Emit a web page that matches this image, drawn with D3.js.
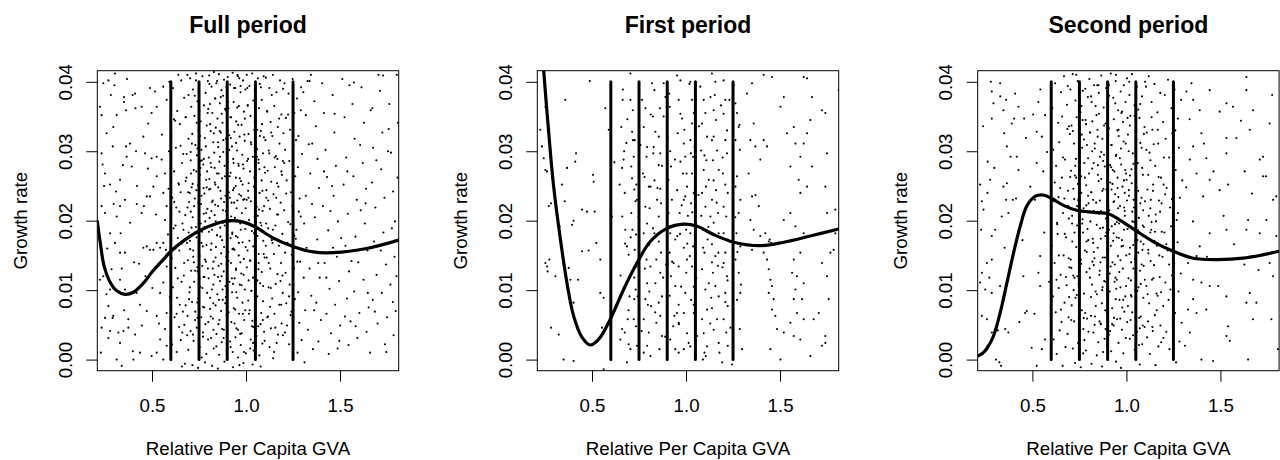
<!DOCTYPE html>
<html><head><meta charset="utf-8">
<script src="https://cdn.jsdelivr.net/npm/d3@7/dist/d3.min.js"></script>
<style>
html,body{margin:0;padding:0;background:#fff;}
svg{display:block;font-family:"Liberation Sans",Arial,Helvetica,sans-serif;}
</style></head>
<body>
<svg id="chart" width="1280" height="460"></svg>
<script>
// ---------------- DATA ----------------
const panelTitles = ["Full period", "First period", "Second period"];
const xLabel = "Relative Per Capita GVA";
const yLabel = "Growth rate";
const xTicks = [0.5, 1.0, 1.5];
const yTicks = [0.00, 0.01, 0.02, 0.03, 0.04];
const breakLines = [0.6, 0.75, 0.9, 1.05, 1.25];
const xDomain = [0.209, 1.812];
const yDomain = [-0.0016, 0.0416];

// smooth fitted curves [x, growth]
const fullCurve = [[.209,.0199],[.225,.0168],[.245,.0135],[.28,.0110],[.312,.0099],[.356,.0094],[.401,.0097],[.454,.0110],[.5,.0126],[.56,.0144],[.6,.0156],[.667,.0171],[.755,.0186],[.844,.0196],[.915,.0200],[.986,.0198],[1.05,.0191],[1.145,.0175],[1.25,.0163],[1.358,.0155],[1.465,.0154],[1.642,.0160],[1.812,.0172]];
const firstCurve = [[.225,.0485],[.243,.0416],[.270,.0326],[.296,.0249],[.332,.0173],[.367,.0110],[.402,.0063],[.447,.0032],[.491,.0021],[.535,.0029],[.597,.0058],[.668,.0101],[.739,.0139],[.810,.0170],[.899,.0189],[.988,.0195],[1.059,.0192],[1.147,.0180],[1.254,.0169],[1.395,.0164],[1.520,.0169],[1.661,.0178],[1.812,.0188]];
const secondCurve = [[.209,.0005],[.235,.0009],[.258,.0016],[.293,.0034],[.328,.0067],[.364,.0110],[.400,.0154],[.435,.0192],[.470,.0221],[.514,.0235],[.555,.0237],[.603,.0232],[.665,.0222],[.735,.0215],[.824,.0212],[.904,.0210],[.965,.0201],[1.054,.0185],[1.142,.0170],[1.249,.0156],[1.355,.0146],[1.479,.0144],[1.620,.0146],[1.812,.0156]];

// scatter points [x, growth]
const fullPointsA = [
[.223,.0364],[.241,.0398],[.268,.0402],[.303,.0412],[.232,.0352],[.259,.0326],[.294,.0335],[.291,.0307],[.232,.0297],[.250,.0268],[.277,.0252],[.309,.0242],[.330,.0259],[.356,.0230],[.362,.0359],[.351,.0371],[.351,.0378],[.397,.0381],[.410,.0383],[.383,.0311],[.362,.0307],[.365,.0292],[.392,.0278],[.312,.0206],[.330,.0221],[.333,.0182],[.250,.0211],[.232,.0221],[.277,.0182],[.303,.0168],[.330,.0154],[.356,.0154],[.285,.0130],[.241,.0120],[.223,.0115],[.268,.0077],[.250,.0060],[.294,.0063],[.232,.0046],[.277,.0041],[.321,.0039],[.348,.0041],[.374,.0046],[.330,.0024],[.312,.0000],[.339,-.0009],[.401,.0000],[.374,.0058],[.418,.0096],[.436,.0079],[.472,.0070],[.454,.0161],[.472,.0163],[.489,.0158],[.507,.0158],[.525,.0168],[.543,.0161],[.560,.0168],[.445,.0211],[.457,.0221],[.472,.0235],[.489,.0235],[.507,.0249],[.525,.0264],[.498,.0290],[.454,.0321],[.480,.0340],[.445,.0364],[.498,.0355],[.525,.0364],[.560,.0393],[.578,.0374],[.516,.0386],[.525,.0292],[.551,.0288],[.569,.0268],[.560,.0240],[.578,.0221],[.569,.0201],[.578,.0134],[.560,.0111],[.543,.0096],[.525,.0063],[.578,.0067],[.569,.0044],[.543,.0029],[.525,.0010],[.560,.0000],[.578,.0020],[.498,.0005],[.436,.0010],[.410,.0036],[.330,.0115],[.356,.0101],[.277,.0101],
[.228,.0010],[.262,.0160],[.345,.0280],[.420,.0250],[.405,.0140],[.465,.0120],[.300,.0395],[.245,.0250],[.590,.0300],[.585,.0180],[.595,.0090],[.592,.0400],[.290,.0060],[.415,.0300],
[.612,.0391],[.634,.0358],[.655,.0402],[.671,.0377],[.688,.0410],[.603,.0322],[.627,.0305],[.648,.0339],[.666,.0296],[.694,.0318],[.618,.0271],[.641,.0254],[.659,.0283],[.683,.0262],[.608,.0233],[.629,.0219],[.652,.0241],[.677,.0208],[.697,.0227],[.615,.0189],[.637,.0175],[.662,.0196],[.686,.0168],[.605,.0146],[.624,.0132],[.645,.0157],[.669,.0121],[.691,.0143],[.611,.0104],[.633,.0089],[.657,.0112],[.679,.0078],[.699,.0097],[.620,.0061],[.644,.0047],[.664,.0069],[.687,.0035],[.607,.0022],[.631,.0011],[.653,.0028],[.675,-.0006],[.693,.0014],[.640,.0410],[.617,.0346],[.681,.0349],[.646,.0213],[.625,.0160],[.672,.0050],[.659,-.0010],[.695,.0183],
[.703,.0405],[.718,.0389],[.734,.0412],[.751,.0396],[.768,.0408],[.785,.0384],[.797,.0401],[.709,.0364],[.726,.0351],[.742,.0372],[.759,.0343],[.776,.0366],[.791,.0337],[.714,.0325],[.731,.0309],[.747,.0330],[.763,.0302],[.781,.0319],[.706,.0287],[.722,.0273],[.739,.0294],[.755,.0266],[.772,.0281],[.788,.0259],[.711,.0248],[.728,.0232],[.744,.0251],[.761,.0224],[.779,.0239],[.795,.0217],[.716,.0205],[.733,.0191],[.749,.0212],[.766,.0184],[.783,.0199],[.702,.0171],[.719,.0157],[.737,.0176],[.753,.0149],[.770,.0163],[.787,.0141],[.708,.0128],[.724,.0112],[.741,.0133],[.757,.0105],[.774,.0119],[.793,.0096],[.713,.0083],[.730,.0069],[.746,.0088],[.762,.0061],[.778,.0075],[.799,.0054],[.705,.0041],[.721,.0027],[.738,.0046],[.754,.0018],[.771,.0033],[.789,.0008],[.715,-.0008],[.745,-.0012],[.764,.0003],[.782,-.0004],[.727,.0380],[.758,.0286],[.736,.0244],[.775,.0210],[.710,.0190],[.790,.0165],[.750,.0090],[.723,.0140],[.767,.0135],[.742,.0060],[.796,.0355],[.701,.0240],
[.804,.0409],[.817,.0393],[.829,.0414],[.842,.0398],[.856,.0411],[.869,.0388],[.883,.0403],[.896,.0392],[.808,.0368],[.821,.0355],[.835,.0376],[.848,.0347],[.861,.0369],[.875,.0341],[.889,.0361],[.812,.0329],[.826,.0313],[.839,.0334],[.852,.0306],[.866,.0327],[.879,.0299],[.893,.0318],[.802,.0291],[.815,.0277],[.831,.0298],[.845,.0268],[.858,.0285],[.872,.0261],[.886,.0279],[.899,.0255],[.810,.0246],[.823,.0229],[.837,.0252],[.851,.0221],[.864,.0243],[.877,.0215],[.891,.0236],[.806,.0204],[.819,.0187],[.833,.0208],[.846,.0179],[.859,.0198],[.873,.0172],[.887,.0193],[.813,.0158],[.827,.0141],[.840,.0162],[.854,.0135],[.868,.0153],[.881,.0127],[.895,.0148],[.801,.0117],[.818,.0101],[.832,.0122],[.847,.0094],[.862,.0113],[.876,.0086],[.890,.0106],[.809,.0073],[.824,.0059],[.838,.0078],[.853,.0051],[.867,.0070],[.882,.0043],[.897,.0064],[.814,.0031],[.828,.0016],[.843,.0037],[.857,.0007],[.871,.0025],[.885,-.0003],[.898,.0012],[.820,-.0009],[.850,-.0013],[.878,.0380],[.836,.0223],[.863,.0190],[.892,.0090],[.805,.0260],[.870,.0120],
[.903,.0407],[.916,.0396],[.929,.0413],[.943,.0391],[.957,.0408],[.971,.0385],[.984,.0402],[.997,.0389],[.907,.0362],[.921,.0349],[.934,.0371],[.948,.0343],[.962,.0365],[.976,.0338],[.989,.0357],[.911,.0323],[.925,.0307],[.938,.0328],[.952,.0301],[.966,.0321],[.980,.0295],[.993,.0315],[.904,.0284],[.918,.0269],[.932,.0289],[.946,.0262],[.959,.0282],[.973,.0257],[.987,.0275],[.909,.0241],[.923,.0226],[.936,.0247],[.950,.0218],[.964,.0238],[.978,.0211],[.991,.0231],[.914,.0199],[.927,.0183],[.941,.0204],[.955,.0176],[.969,.0196],[.982,.0169],[.996,.0188],[.906,.0155],[.920,.0139],[.933,.0160],[.947,.0131],[.961,.0150],[.975,.0124],[.988,.0145],[.912,.0112],[.926,.0097],[.940,.0117],[.953,.0089],[.967,.0108],[.981,.0082],[.994,.0101],[.908,.0068],[.922,.0054],[.935,.0074],[.949,.0045],[.963,.0066],[.977,.0038],[.990,.0057],[.915,.0026],[.929,.0011],[.944,.0032],[.958,.0003],[.972,.0021],[.986,-.0005],[.999,.0009],[.931,-.0011],[.965,-.0008],[.945,.0250],[.918,.0175],[.970,.0140],[.902,.0330],[.985,.0230],[.954,.0410],
[1.004,.0410],[1.018,.0394],[1.033,.0412],[1.048,.0387],[1.063,.0405],[1.079,.0392],[1.094,.0408],[1.009,.0366],[1.024,.0351],[1.039,.0373],[1.054,.0344],[1.069,.0362],[1.085,.0339],[1.013,.0325],[1.028,.0310],[1.044,.0331],[1.059,.0303],[1.074,.0322],[1.090,.0297],[1.006,.0286],[1.021,.0271],[1.036,.0292],[1.052,.0265],[1.067,.0283],[1.083,.0258],[1.098,.0277],[1.011,.0243],[1.026,.0228],[1.042,.0249],[1.057,.0220],[1.072,.0240],[1.088,.0214],[1.016,.0201],[1.031,.0185],[1.046,.0206],[1.061,.0178],[1.077,.0197],[1.092,.0171],[1.008,.0157],[1.023,.0142],[1.038,.0163],[1.053,.0134],[1.068,.0152],[1.084,.0126],[1.099,.0147],[1.014,.0114],[1.029,.0099],[1.045,.0119],[1.060,.0091],[1.075,.0110],[1.091,.0084],[1.019,.0071],[1.034,.0056],[1.050,.0076],[1.065,.0048],[1.081,.0067],[1.096,.0040],[1.025,.0029],[1.040,.0013],[1.056,.0034],[1.071,.0006],[1.087,.0023],[1.035,-.0007],[1.078,-.0010],[1.003,.0230],[1.051,.0360],[1.086,.0185],[1.012,.0085],[1.066,.0130],[1.095,.0320],
[1.106,.0406],[1.124,.0391],[1.143,.0410],[1.162,.0385],[1.181,.0402],[1.197,.0390],[1.112,.0358],[1.131,.0342],[1.150,.0365],[1.169,.0335],[1.188,.0353],[1.103,.0316],[1.121,.0301],[1.140,.0322],[1.159,.0293],[1.178,.0311],[1.196,.0286],[1.115,.0272],[1.134,.0256],[1.153,.0277],[1.172,.0249],[1.191,.0266],[1.108,.0233],[1.127,.0217],[1.146,.0238],[1.165,.0209],[1.184,.0226],[1.118,.0189],[1.137,.0172],[1.156,.0193],[1.175,.0164],[1.193,.0181],[1.110,.0147],[1.129,.0131],[1.148,.0152],[1.167,.0123],[1.186,.0139],[1.120,.0104],[1.139,.0088],[1.158,.0109],[1.177,.0079],[1.195,.0096],[1.113,.0061],[1.132,.0045],[1.151,.0066],[1.170,.0036],[1.189,.0052],[1.125,.0018],[1.144,.0002],[1.163,.0024],
[1.205,.0398],[1.226,.0383],[1.248,.0404],[1.271,.0376],[1.293,.0392],[1.212,.0348],[1.234,.0331],[1.257,.0355],[1.279,.0322],[1.208,.0302],[1.230,.0286],[1.253,.0309],[1.276,.0277],[1.298,.0296],[1.216,.0258],[1.239,.0241],[1.262,.0264],[1.285,.0232],[1.203,.0215],[1.224,.0198],[1.246,.0221],[1.268,.0187],[1.291,.0206],[1.220,.0168],[1.243,.0151],[1.265,.0174],[1.288,.0141],[1.210,.0125],[1.232,.0108],[1.255,.0131],[1.277,.0097],[1.214,.0081],[1.237,.0064],[1.260,.0087],[1.283,.0053],[1.207,.0039],[1.229,.0022],[1.251,.0045],[1.274,.0010],[1.296,.0028],
[1.305,.0385],[1.318,.0352],[1.327,.0401],[1.334,.0310],[1.342,.0268],[1.351,.0224],[1.309,.0196],[1.322,.0161],[1.338,.0131],[1.347,.0092],[1.315,.0071],[1.329,.0043],[1.356,.0015],[1.311,-.0004],[1.363,.0372],[1.371,.0336],[1.380,.0289],[1.388,.0247],[1.366,.0205],[1.379,.0173],[1.392,.0118],[1.374,.0082],[1.398,.0057],[1.385,.0026],[1.405,.0398],[1.414,.0355],[1.423,.0302],[1.431,.0263],[1.409,.0221],[1.437,.0186],[1.418,.0139],[1.444,.0102],[1.428,.0066],[1.452,.0038],[1.440,.0008],[1.461,.0381],[1.470,.0327],[1.478,.0279],[1.466,.0236],[1.489,.0199],[1.483,.0148],[1.495,.0113],[1.474,.0079],[1.501,.0049],[1.487,.0016],[1.512,.0404],[1.524,.0349],[1.533,.0291],[1.519,.0252],[1.541,.0210],[1.529,.0164],[1.548,.0127],[1.537,.0088],[1.556,.0055],[1.545,.0021],[1.566,.0368],[1.578,.0318],[1.571,.0264],[1.589,.0230],[1.582,.0177],[1.597,.0140],[1.575,.0098],[1.603,.0067],[1.592,.0031],[1.614,.0392],[1.627,.0341],[1.621,.0283],[1.638,.0246],[1.632,.0196],[1.646,.0157],[1.625,.0115],[1.652,.0075],[1.641,.0040],[1.663,.0359],[1.676,.0305],[1.670,.0255],[1.688,.0219],[1.681,.0170],[1.694,.0122],[1.674,.0086],[1.700,.0052],[1.712,.0387],[1.725,.0327],[1.719,.0274],[1.736,.0233],[1.731,.0183],[1.744,.0137],[1.722,.0096],[1.750,.0061],[1.739,.0022],[1.762,.0368],[1.771,.0298],[1.782,.0242],[1.776,.0189],[1.790,.0148],[1.768,.0108],[1.796,.0070],[1.785,.0035],[1.802,.0410],[1.806,.0262],[1.800,.0120],[1.345,.0410],[1.402,.0155],[1.458,.0250],[1.506,.0175],[1.550,.0395],[1.610,.0215],[1.660,.0010],[1.705,.0410],[1.755,.0300]
];
const fullPointsB = [
[.743,.0127],[.958,.0338],[.812,.0062],[1.071,.0274],[.689,.0219],[.901,.0093],[1.137,.0381],[.776,.0289],[1.022,.0016],[.864,.0177],
[.931,.0244],[.718,.0036],[1.094,.0152],[.805,.0397],[.652,.0308],[1.183,.0113],[.887,.0264],[.996,.0071],[.759,.0196],[1.046,.0342],
[.823,.0131],[1.118,.0229],[.697,.0087],[.972,.0187],[.851,.0313],[1.257,.0178],[.734,.0402],[.918,.0018],[1.063,.0207],[.791,.0248],
[.625,.0193],[1.009,.0366],[.873,.0044],[1.152,.0291],[.768,.0103],[.946,.0129],[1.089,.0057],[.837,.0376],[.707,.0268],[1.214,.0239],
[.984,.0281],[.756,.0322],[1.128,.0076],[.893,.0214],[.661,.0039],[1.037,.0118],[.816,.0167],[1.176,.0347],[.939,.0052],[.782,.0144],
[1.052,.0238],[.871,.0354],[.727,.0183],[.964,.0405],[1.107,.0196],[.798,.0029],[.911,.0302],[1.241,.0069],[.679,.0257],[1.018,.0171],
[.856,.0086],[.747,.0226],[1.079,.0329],[.928,.0159],[.637,.0117],[1.165,.0254],[.833,.0276],[.989,.0011],[.712,.0311],[1.281,.0213],
[.905,.0371],[1.032,.0048],[.771,.0076],[1.121,.0139],[.867,.0232],[.694,.0381],[.951,.0199],[1.196,.0035],[.809,.0339],[1.058,.0292],
[.736,.0271],[.976,.0107],[1.143,.0187],[.842,.0019],[.618,.0227],[1.014,.0254],[.897,.0137],[1.266,.0316],[.763,.0168],[.934,.0283],
[1.099,.0027],[.788,.0211],[.953,.0363],[.671,.0139],[1.047,.0079],[.879,.0316],[1.208,.0154],[.729,.0057],[.998,.0218],[.826,.0108],
[1.073,.0397],[.914,.0233],[.752,.0358],[1.156,.0046],[.862,.0292],[.648,.0079],[1.026,.0313],[.943,.0072],[.797,.0131],[1.188,.0271],
[.883,.0162],[.706,.0213],[1.061,.0114],[.967,.0261],[.819,.0227],[1.229,.0091],[.741,.0082],[1.004,.0133],[.917,.0349],[1.113,.0357],
[.846,.0401],[.684,.0296],[1.042,.0182],[.925,.0117],[.774,.0247],[1.171,.0209],[.991,.0324],[.859,.0057],[.623,.0344],[1.087,.0243],
[.957,.0043],[.803,.0184],[1.134,.0327],[.877,.0197],[.719,.0148],[1.011,.0289],[.936,.0391],[1.252,.0264],[.784,.0051],[1.067,.0139],
[.829,.0326],[.962,.0168],[1.101,.0269],[.701,.0104],[.889,.0081],[1.038,.0024],[.765,.0287],[1.194,.0121],[.974,.0236],[.852,.0248],
[1.117,.0062],[.738,.0341],[.921,.0206],[1.084,.0374],[.809,.0089],[.667,.0187],[1.003,.0196],[.868,.0138],[1.224,.0353],[.947,.0312],
[.793,.0271],[1.029,.0099],[.898,.0047],[1.161,.0233],[.753,.0116],[.982,.0252],[.839,.0199],[1.069,.0216],[.706,.0299],[.931,.0109],
[1.053,.0157],[.866,.0378],[.779,.0191],[1.141,.0168],[.994,.0347],[.643,.0252],[.913,.0264],[1.273,.0141],[.827,.0043],[1.016,.0066],
[.724,.0221],[.946,.0178],[1.096,.0221],[.851,.0119],[.799,.0361],[1.203,.0283],[.969,.0037],[.689,.0063],[1.044,.0262],[.883,.0227],
[.907,.0142],[1.124,.0297],[.771,.0039],[.987,.0122],[.834,.0255],[1.059,.0331],[.716,.0253],[.954,.0229],[1.187,.0079],[.861,.0329],
[.748,.0169],[1.007,.0391],[.892,.0359],[1.132,.0103],[.812,.0283],[.678,.0349],[.939,.0158],[1.077,.0051],[.763,.0236],[1.236,.0195],
[.983,.0066],[.845,.0179],[1.108,.0244],[.729,.0128],[.919,.0319],[1.048,.0209],[.786,.0307],[.658,.0167],[1.167,.0289],[.875,.0101],
[1.021,.0143],[.901,.0253],[.757,.0276],[1.082,.0193],[.826,.0081],[.961,.0279],[1.149,.0011],[.703,.0159],[.937,.0226],[1.291,.0359],
[.816,.0214],[1.066,.0288],[.881,.0031],[.742,.0304],[.998,.0162],[1.199,.0326],[.854,.0268],[.631,.0066],[1.039,.0047],[.927,.0181],
[.779,.0119],[1.013,.0233],[.948,.0097],[1.105,.0164],[.838,.0147],[.692,.0241],[.971,.0394],[1.218,.0049],[.803,.0245],[1.091,.0106],
[.237,.0281],[.312,.0352],[.384,.0197],[.446,.0049],[.521,.0209],[.268,.0031],[.339,.0131],[.412,.0362],[.478,.0275],[.553,.0324],[.296,.0224],[.367,.0404],[.431,.0138],[.502,.0103],[.574,.0158],[.223,.0165],[.281,.0381],[.352,.0071],[.419,.0224],[.489,.0391],[.537,.0052],[.588,.0246],[.258,.0094],[.398,.0012],[.463,.0297],
[1.318,.0236],[1.427,.0118],[1.539,.0271],[1.648,.0096],[1.759,.0332],[1.362,.0071],[1.471,.0354],[1.583,.0048],[1.693,.0287],[1.792,.0199],[1.338,.0401],[1.449,.0214],[1.561,.0142],[1.672,.0362],[1.781,.0083],[1.384,.0139],[1.496,.0027],[1.607,.0309],[1.717,.0157],[1.808,.0341],[1.307,.0118],[1.415,.0271],[1.526,.0062],[1.636,.0225],[1.746,.0011],[1.352,.0311],[1.463,.0161],[1.574,.0399],[1.685,.0069],[1.729,.0409]
];

const firstPointsA = [
[.225,.0331],[.234,.0307],[.243,.0290],[.252,.0273],[.261,.0271],[.252,.0364],[.270,.0221],[.282,.0225],[.252,.0139],[.261,.0134],[.273,.0144],[.264,.0127],[.305,.0120],[.282,.0046],[.323,.0036],[.358,.0374],[.367,.0276],[.355,.0228],[.340,.0252],[.328,.0192],[.394,.0194],[.376,.0132],[.385,.0115],[.402,.0082],[.411,.0285],[.402,.0200],[.415,.0297],[.447,.0216],[.473,.0213],[.447,.0156],[.482,.0157],[.426,.0115],[.349,.0000],[.402,-.0002],[.488,.0401],[.505,.0266],[.509,.0256],[.514,.0213],[.523,.0168],[.544,.0144],[.544,.0096],[.562,.0089],[.553,.0046],[.571,.0362],[.589,.0331],[.606,.0206],[.562,-.0014],
[.647,.0252],[.656,.0335],[.663,.0374],[.660,.0276],[.668,.0288],[.671,.0300],[.674,.0240],[.661,.0206],[.677,.0187],[.686,.0163],[.695,.0151],[.704,.0120],[.699,.0091],[.690,.0058],[.660,.0044],[.674,.0039],[.695,.0022],[.704,.0015],[.686,-.0004],[.651,.0029],
[.704,.0412],[.704,.0374],[.713,.0328],[.718,.0316],[.727,.0316],[.722,.0292],[.709,.0278],[.713,.0261],[.725,.0245],[.736,.0252],[.739,.0230],[.709,.0211],[.715,.0187],[.734,.0180],[.727,.0158],[.739,.0134],[.725,.0118],[.732,.0101],[.725,.0087],[.722,.0058],[.734,.0048],[.739,.0020],
[.766,.0374],[.784,.0362],[.775,.0335],[.793,.0306],[.790,.0292],[.779,.0263],[.802,.0249],[.811,.0249],[.784,.0220],[.793,.0196],[.775,.0182],[.802,.0165],[.790,.0144],[.811,.0134],[.793,.0110],[.805,.0098],[.784,.0087],[.814,.0077],[.775,.0058],[.802,.0039],[.793,.0020],[.775,.0010],[.811,.0005],
[.819,.0398],[.832,.0388],[.824,.0350],[.837,.0328],[.855,.0321],[.828,.0306],[.863,.0297],[.855,.0280],[.832,.0258],[.863,.0246],[.846,.0230],[.867,.0225],[.855,.0206],[.832,.0182],[.855,.0170],[.867,.0154],[.842,.0144],[.863,.0125],[.837,.0110],[.872,.0091],[.855,.0082],[.863,.0063],[.842,.0053],[.872,.0034],[.859,.0015],
[.881,.0398],[.890,.0378],[.881,.0350],[.913,.0364],[.902,.0320],[.916,.0300],[.920,.0278],[.907,.0259],[.898,.0242],[.925,.0230],[.907,.0211],[.929,.0192],[.916,.0182],[.943,.0173],[.913,.0154],[.934,.0139],[.920,.0120],[.943,.0106],[.913,.0092],[.952,.0067],[.932,.0048],[.916,.0029],[.943,.0015],[.961,.0010],
[.952,.0409],[.970,.0402],[.961,.0374],[.970,.0354],[.979,.0347],[.956,.0326],[.988,.0311],[.996,.0292],[.970,.0285],[.984,.0268],[1.005,.0249],[.996,.0235],[.988,.0230],[1.010,.0207],[.966,.0211],[1.001,.0187],[.954,.0178],[.988,.0161],[1.005,.0144],[.961,.0134],[1.001,.0125],[.974,.0105],[.996,.0096],[.961,.0079],[.988,.0067],[.961,.0053],[1.005,.0038],[1.014,.0024],[.988,.0015],
[1.023,.0400],[1.032,.0374],[1.041,.0355],[1.032,.0340],[1.023,.0316],[1.045,.0306],[1.038,.0292],[1.050,.0282],[1.032,.0268],[1.041,.0240],[1.027,.0225],[1.050,.0206],[1.023,.0182],[1.038,.0163],[1.020,.0149],[1.032,.0134],[1.041,.0105],[1.027,.0086],[1.041,.0067],[1.050,.0048],[1.059,.0034],[1.023,.0019],
[1.076,.0393],[1.094,.0374],[1.103,.0355],[1.085,.0340],[1.112,.0321],[1.080,.0301],[1.108,.0287],[1.094,.0273],[1.121,.0259],[1.085,.0240],[1.103,.0220],[1.130,.0206],[1.090,.0187],[1.115,.0173],[1.098,.0154],[1.138,.0140],[1.085,.0130],[1.121,.0110],[1.103,.0101],[1.112,.0072],[1.085,.0058],[1.094,.0038],[1.112,.0019],[1.098,.0010],[1.090,.0000],[1.105,.0005],
[1.138,.0412],[1.156,.0400],[1.130,.0378],[1.147,.0359],[1.160,.0345],[1.138,.0316],[1.165,.0301],[1.143,.0287],[1.174,.0273],[1.147,.0258],[1.160,.0244],[1.138,.0230],[1.170,.0211],[1.147,.0197],[1.174,.0182],[1.138,.0166],[1.156,.0149],[1.170,.0135],[1.143,.0125],[1.156,.0106],[1.174,.0091],[1.138,.0074],[1.165,.0058],[1.147,.0043],[1.174,.0024],[1.178,.0010],[1.192,-.0004],
[1.200,.0402],[1.209,.0374],[1.200,.0354],[1.218,.0330],[1.209,.0316],[1.218,.0297],[1.196,.0268],[1.209,.0252],[1.222,.0240],[1.200,.0220],[1.214,.0206],[1.200,.0182],[1.222,.0173],[1.209,.0154],[1.200,.0139],[1.218,.0120],[1.209,.0096],[1.222,.0077],[1.200,.0058],[1.214,.0039],[1.222,.0020],[1.245,-.0007],
[1.254,.0395],[1.263,.0369],[1.271,.0355],[1.280,.0335],[1.263,.0316],[1.286,.0302],[1.271,.0264],[1.263,.0249],[1.289,.0230],[1.280,.0211],[1.268,.0182],[1.289,.0163],[1.263,.0144],[1.280,.0125],[1.289,.0096],[1.271,.0086],[1.286,.0044],[1.298,.0015],
[1.324,.0383],[1.351,.0398],[1.360,.0340],[1.342,.0316],[1.369,.0307],[1.395,.0288],[1.413,.0316],[1.431,.0307],[1.333,.0268],[1.351,.0235],[1.369,.0237],[1.387,.0221],[1.342,.0201],[1.360,.0187],[1.351,.0158],[1.395,.0178],[1.413,.0154],[1.422,.0182],[1.431,.0144],[1.440,.0130],[1.449,.0115],[1.457,.0106],[1.466,.0087],[1.440,.0096],[1.457,.0072],[1.475,.0063],[1.484,.0044],[1.502,.0000],[1.520,.0039],[1.449,.0015],[1.440,.0170],[1.445,.0173],[1.452,.0168],[1.448,.0165],
[1.413,.0410],[1.457,.0407],[1.502,.0364],[1.520,.0378],[1.537,.0326],[1.573,.0335],[1.555,.0278],[1.582,.0311],[1.599,.0259],[1.608,.0292],[1.626,.0311],[1.644,.0326],[1.661,.0345],[1.670,.0278],[1.608,.0240],[1.644,.0249],[1.520,.0201],[1.555,.0211],[1.582,.0192],[1.590,.0173],[1.626,.0182],[1.573,.0144],[1.608,.0154],[1.564,.0125],[1.590,.0120],[1.582,.0101],[1.626,.0110],[1.573,.0087],[1.617,.0087],[1.590,.0067],[1.626,.0058],[1.555,.0053],[1.573,.0034],[1.608,.0029],[1.661,.0005],[1.679,.0058],[1.706,.0067],[1.723,.0020],[1.741,.0024],[1.741,.0034],[1.759,.0087],[1.750,.0120],[1.768,.0154],[1.723,.0139],[1.785,.0158],[1.794,.0182],[1.750,.0211],[1.723,.0359],[1.741,.0355],[1.750,.0297],[1.741,.0249],[1.794,.0216],[1.812,.0388],[1.644,.0405],[1.626,.0407],[1.670,.0378]
];
const firstPointsB = [
[.683,.0312],[.747,.0205],[.812,.0353],[.878,.0118],[.941,.0288],[1.007,.0167],[1.069,.0336],[1.134,.0089],[1.195,.0291],[1.262,.0205],
[.706,.0176],[.771,.0268],[.836,.0068],[.899,.0196],[.962,.0051],[1.026,.0297],[1.091,.0161],[1.153,.0381],[1.221,.0114],[1.284,.0338],
[.652,.0121],[.717,.0359],[.781,.0131],[.848,.0247],[.911,.0383],[.977,.0222],[1.041,.0079],[1.106,.0249],[1.172,.0154],[1.236,.0046],
[.694,.0071],[.758,.0309],[.824,.0189],[.889,.0033],[.953,.0244],[1.018,.0397],[1.081,.0207],[1.147,.0321],[1.209,.0083],[1.273,.0155],
[.664,.0389],[.731,.0228],[.797,.0079],[.861,.0362],[.926,.0141],[.991,.0331],[1.055,.0117],[1.119,.0191],[1.186,.0366],[1.249,.0261],
[.676,.0167],[.743,.0091],[.806,.0218],[.872,.0279],[.938,.0063],[1.003,.0268],[1.066,.0237],[1.129,.0052],[1.194,.0133],[1.292,.0108],
[.619,.0284],[.688,.0346],[.764,.0041],[.826,.0297],[.894,.0137],[.968,.0181],[1.033,.0212],[1.098,.0294],[1.163,.0226],[1.231,.0374]
];

const secondPointsA = [
[.222,.0252],[.231,.0228],[.240,.0216],[.261,.0240],[.275,.0259],[.262,.0285],[.284,.0347],[.293,.0369],[.284,.0386],[.279,.0400],[.328,.0398],[.346,.0359],[.360,.0374],[.350,.0326],[.364,.0307],[.390,.0340],[.403,.0347],[.426,.0364],[.408,.0383],[.456,.0347],[.396,.0230],[.364,.0254],[.346,.0249],[.360,.0230],[.337,.0206],[.302,.0187],[.284,.0178],[.284,.0144],[.258,.0139],[.231,.0125],[.222,.0111],[.249,.0101],[.284,.0096],[.328,.0106],[.231,.0063],[.258,.0058],[.284,.0039],[.261,.0020],[.306,.0000],[.324,-.0004],[.333,-.0009],[.355,.0044],[.372,.0039],[.452,.0120],[.470,.0070],[.461,.0067],[.496,.0017],[.514,.0230],[.532,.0125],[.541,.0106],[.541,.0149],[.523,.0283],[.550,.0321],[.523,.0328],[.558,.0271],[.567,.0352],[.532,.0371],[.567,.0029],[.550,.0015],[.523,-.0009],[.417,.0292],[.426,.0273],
[.606,.0362],[.621,.0398],[.637,.0341],[.652,.0385],[.668,.0408],[.684,.0367],[.699,.0325],[.611,.0302],[.626,.0279],[.643,.0313],[.657,.0262],[.673,.0288],[.689,.0243],[.615,.0228],[.632,.0195],[.648,.0247],[.663,.0211],[.679,.0176],[.694,.0203],[.603,.0164],[.618,.0139],[.634,.0181],[.650,.0122],[.666,.0150],[.682,.0107],[.697,.0133],[.609,.0091],[.624,.0068],[.640,.0103],[.655,.0054],[.671,.0082],[.687,.0037],[.613,.0029],[.629,.0008],[.645,.0042],[.661,-.0009],[.676,.0018],[.692,.0061],[.619,.0255],[.686,.0332],[.641,.0150],[.658,.0350],[.628,.0115],[.695,.0090],[.670,.0232],
[.702,.0389],[.714,.0411],[.729,.0373],[.741,.0401],[.756,.0356],[.768,.0387],[.783,.0345],[.795,.0378],[.708,.0337],[.721,.0311],[.735,.0349],[.748,.0298],[.762,.0324],[.776,.0283],[.790,.0309],[.705,.0272],[.718,.0246],[.731,.0289],[.745,.0231],[.759,.0264],[.772,.0218],[.786,.0251],[.799,.0225],[.711,.0207],[.724,.0183],[.738,.0221],[.752,.0168],[.765,.0196],[.779,.0157],[.793,.0188],[.704,.0144],[.717,.0121],[.733,.0162],[.746,.0109],[.760,.0138],[.774,.0095],[.788,.0126],[.709,.0078],[.722,.0055],[.736,.0093],[.750,.0041],[.763,.0071],[.777,.0028],[.791,.0059],[.715,.0016],[.727,-.0005],[.743,.0024],[.757,-.0011],[.770,.0009],[.784,.0013],[.798,.0040],[.726,.0265],[.754,.0190],[.781,.0390],[.739,.0120],[.767,.0345],[.712,.0170],[.796,.0290],[.748,.0375],[.773,.0060],[.733,.0410],[.760,.0240],[.788,.0170],[.719,.0100],[.752,.0300],
[.803,.0404],[.815,.0371],[.828,.0395],[.841,.0352],[.853,.0384],[.866,.0409],[.879,.0363],[.892,.0391],[.806,.0327],[.819,.0343],[.832,.0304],[.846,.0331],[.859,.0292],[.872,.0318],[.885,.0278],[.898,.0306],[.801,.0268],[.813,.0241],[.826,.0283],[.839,.0226],[.852,.0257],[.865,.0214],[.878,.0246],[.891,.0203],[.808,.0199],[.821,.0174],[.834,.0211],[.847,.0161],[.860,.0189],[.874,.0147],[.887,.0178],[.899,.0135],[.804,.0131],[.817,.0108],[.830,.0146],[.843,.0094],[.856,.0122],[.869,.0081],[.882,.0113],[.895,.0069],[.811,.0063],[.824,.0039],[.837,.0077],[.850,.0025],[.863,.0052],[.876,.0011],[.889,.0044],[.814,-.0006],[.842,.0006],[.870,-.0010],[.896,.0021],[.823,.0230],[.848,.0280],[.875,.0190],[.836,.0365],[.862,.0140],[.889,.0340],[.812,.0090],[.857,.0055],[.881,.0295],[.827,.0155],[.866,.0260],[.845,.0395],[.893,.0245],[.818,.0300],[.871,.0100],[.854,.0210],[.884,.0030],[.831,.0050],[.897,.0160],
[.904,.0398],[.917,.0412],[.930,.0377],[.943,.0401],[.956,.0359],[.969,.0386],[.982,.0342],[.995,.0371],[.907,.0333],[.920,.0309],[.933,.0346],[.946,.0295],[.959,.0322],[.972,.0281],[.985,.0314],[.998,.0268],[.901,.0286],[.914,.0255],[.927,.0273],[.940,.0238],[.953,.0262],[.966,.0221],[.979,.0249],[.992,.0207],[.909,.0215],[.922,.0192],[.935,.0228],[.948,.0176],[.961,.0201],[.974,.0163],[.987,.0187],[.903,.0159],[.916,.0134],[.929,.0171],[.942,.0118],[.955,.0149],[.968,.0104],[.981,.0131],[.994,.0091],[.911,.0098],[.924,.0074],[.937,.0112],[.950,.0058],[.963,.0086],[.976,.0043],[.989,.0069],[.906,.0036],[.919,.0012],[.932,.0049],[.945,-.0003],[.958,.0024],[.971,-.0012],[.984,.0009],[.997,.0031],[.913,.0280],[.939,.0195],[.965,.0290],[.991,.0240],[.926,.0140],[.952,.0330],[.978,.0075],[.908,.0380],[.934,.0060],[.960,.0175],[.986,.0395],[.949,.0115],[.921,.0245],[.973,.0355],[.999,.0150],[.944,.0410],
[1.003,.0405],[1.016,.0381],[1.029,.0411],[1.043,.0366],[1.056,.0393],[1.069,.0348],[1.083,.0379],[1.096,.0335],[1.008,.0324],[1.021,.0351],[1.034,.0297],[1.048,.0329],[1.061,.0283],[1.074,.0312],[1.088,.0266],[1.001,.0259],[1.014,.0236],[1.027,.0274],[1.040,.0219],[1.053,.0248],[1.066,.0204],[1.080,.0233],[1.093,.0191],[1.006,.0188],[1.019,.0161],[1.032,.0199],[1.045,.0145],[1.058,.0172],[1.072,.0128],[1.085,.0158],[1.098,.0115],[1.011,.0117],[1.024,.0093],[1.037,.0131],[1.050,.0078],[1.064,.0104],[1.077,.0062],[1.090,.0089],[1.004,.0054],[1.018,.0030],[1.031,.0068],[1.044,.0014],[1.057,.0040],[1.071,-.0007],[1.084,.0022],[1.097,.0047],[1.012,.0300],[1.038,.0230],[1.063,.0360],[1.089,.0215],[1.025,.0140],[1.051,.0280],[1.076,.0170],[1.099,.0400],[1.047,.0100],[1.068,.0060],[1.015,.0400],[1.092,.0135],[1.035,.0035],[1.081,.0305],
[1.104,.0393],[1.119,.0408],[1.134,.0371],[1.149,.0397],[1.165,.0356],[1.180,.0384],[1.195,.0342],[1.108,.0327],[1.123,.0298],[1.138,.0331],[1.153,.0279],[1.169,.0311],[1.184,.0262],[1.199,.0291],[1.112,.0245],[1.127,.0218],[1.142,.0252],[1.157,.0199],[1.173,.0229],[1.188,.0184],[1.102,.0178],[1.117,.0153],[1.132,.0187],[1.147,.0136],[1.162,.0164],[1.177,.0119],[1.192,.0148],[1.106,.0106],[1.121,.0081],[1.136,.0115],[1.151,.0064],[1.166,.0092],[1.181,.0049],[1.196,.0077],[1.110,.0032],[1.125,.0008],[1.140,.0041],[1.155,-.0008],[1.170,.0019],[1.185,.0025],[1.130,.0230],[1.160,.0095],[1.145,.0310],[1.175,.0150],[1.115,.0055],
[1.204,.0381],[1.221,.0403],[1.239,.0362],[1.256,.0389],[1.274,.0347],[1.291,.0374],[1.209,.0318],[1.227,.0291],[1.244,.0326],[1.262,.0273],[1.279,.0305],[1.297,.0258],[1.214,.0247],[1.232,.0219],[1.249,.0254],[1.267,.0201],[1.284,.0233],[1.202,.0183],[1.219,.0157],[1.237,.0192],[1.254,.0138],[1.272,.0169],[1.289,.0124],[1.207,.0111],[1.224,.0086],[1.242,.0121],[1.259,.0067],[1.277,.0098],[1.294,.0053],[1.212,.0040],[1.229,.0015],[1.247,.0047],[1.264,-.0004],[1.282,.0026],[1.260,.0330],
[1.319,.0386],[1.355,.0374],[1.346,.0398],[1.390,.0359],[1.443,.0388],[1.496,.0357],[1.532,.0369],[1.567,.0364],[1.638,.0407],[1.673,.0359],[1.762,.0340],[1.638,.0388],[1.532,.0319],[1.585,.0319],[1.532,.0297],[1.399,.0326],[1.355,.0307],[1.337,.0288],[1.425,.0290],[1.373,.0268],[1.443,.0259],[1.408,.0235],[1.496,.0244],[1.541,.0252],[1.629,.0271],[1.656,.0331],[1.709,.0288],[1.727,.0292],[1.727,.0264],[1.780,.0230],[1.797,.0235],[1.744,.0201],[1.647,.0201],[1.638,.0187],[1.709,.0182],[1.797,.0178],[1.532,.0187],[1.443,.0182],[1.390,.0163],[1.373,.0149],[1.328,.0139],[1.355,.0115],[1.399,.0111],[1.443,.0106],[1.488,.0106],[1.532,.0091],[1.355,.0087],[1.328,.0072],[1.373,.0067],[1.425,.0072],[1.638,.0082],[1.656,.0096],[1.691,.0082],[1.673,.0058],[1.771,.0058],[1.806,.0015],[1.647,.0000],[1.532,.0034],[1.550,.0027],[1.461,-.0002],[1.399,.0000],[1.337,.0039],[1.311,.0020],[1.762,.0139],[1.780,.0120]
];
const secondPointsB = [
[.752,.0287],[.968,.0143],[1.116,.0266],[.833,.0062],[.691,.0221],[1.043,.0351],[.907,.0187],[1.184,.0097],[.789,.0155],[.996,.0311],
[.872,.0243],[1.067,.0021],[.724,.0118],[.941,.0369],[1.152,.0184],[.806,.0327],[.983,.0086],[.663,.0291],[1.028,.0254],[.891,.0112],
[1.091,.0166],[.767,.0202],[.924,.0051],[1.206,.0238],[.851,.0395],[.707,.0057],[1.011,.0192],[.957,.0234],[1.138,.0047],[.819,.0141],
[.936,.0271],[.781,.0067],[1.074,.0225],[.864,.0174],[.631,.0197],[1.167,.0331],[.998,.0106],[.742,.0253],[1.049,.0125],[.907,.0395],
[.827,.0214],[1.129,.0142],[.956,.0218],[.693,.0146],[1.018,.0337],[.876,.0286],[1.234,.0101],[.761,.0365],[.982,.0164],[1.087,.0049],
[.715,.0329],[.943,.0087],[1.106,.0302],[.858,.0128],[1.022,.0057],[.796,.0236],[1.179,.0213],[.917,.0164],[.652,.0072],[1.061,.0186],
[.887,.0071],[1.037,.0282],[.738,.0193],[.971,.0304],[1.143,.0117],[.812,.0379],[1.003,.0229],[.679,.0119],[1.254,.0286],[.931,.0227],
[1.073,.0368],[.847,.0321],[.729,.0089],[.962,.0126],[1.119,.0207],[.898,.0258],[.774,.0317],[1.046,.0172],[1.197,.0031],[.823,.0168],
[.994,.0273],[.758,.0144],[1.134,.0349],[.913,.0041],[1.058,.0099],[.701,.0263],[.869,.0211],[1.016,.0152],[1.171,.0263],[.787,.0222],
[.949,.0198],[1.099,.0228],[.836,.0098],[.672,.0181],[1.031,.0213],[.903,.0323],[1.212,.0166],[.771,.0044],[.977,.0357],[1.127,.0183],
[.854,.0354],[1.008,.0077],[.744,.0229],[1.084,.0276],[.926,.0253],[.806,.0118],[1.161,.0071],[.961,.0196],[.688,.0394],[1.052,.0318],
[.893,.0183],[1.141,.0243],[.779,.0262],[1.024,.0114],[.938,.0137],[.711,.0196],[1.081,.0137],[.864,.0051],[1.274,.0211],[.987,.0258],
[.818,.0275],[1.062,.0243],[.921,.0309],[.749,.0049],[1.113,.0094],[.976,.0172],[.842,.0194],[1.187,.0225],[.639,.0234],[1.036,.0165],
[.911,.0124],[1.128,.0287],[.797,.0172],[.953,.0247],[1.071,.0045],[.881,.0337],[.733,.0262],[1.006,.0348],[1.227,.0137],[.859,.0229],
[.967,.0059],[.826,.0136],[1.093,.0325],[.764,.0305],[1.041,.0198],[.899,.0221],[1.156,.0209],[.707,.0132],[.944,.0293],[1.013,.0244],
[.785,.0339],[1.116,.0158],[.873,.0104],[.991,.0214],[1.063,.0154],[.728,.0279],[.932,.0182],[1.198,.0252],[.848,.0266],[1.027,.0091],
[.904,.0221],[.769,.0183],[1.087,.0193],[.958,.0331],[.831,.0311],[1.149,.0171],[.694,.0336],[1.019,.0265],[.886,.0147],[1.242,.0231],
[1.049,.0304],[.813,.0241],[.946,.0102],[1.134,.0198],[.751,.0213],[.988,.0219],[.866,.0299],[1.076,.0109],[.722,.0231],[.919,.0277],
[.238,.0336],[.297,.0276],[.352,.0161],[.413,.0232],[.466,.0319],[.511,.0066],[.563,.0183],[.271,.0118],[.329,.0379],[.384,.0292],[.447,.0172],[.489,.0249],[.542,.0389],[.589,.0112],[.316,.0042],[.372,.0211],[.431,.0054],[.578,.0299],[.227,.0187],[.504,.0353],
[1.318,.0248],[1.412,.0311],[1.517,.0207],[1.609,.0344],[1.703,.0129],[1.354,.0199],[1.463,.0271],[1.572,.0166],[1.668,.0239],[1.775,.0381],[1.336,.0346],[1.428,.0148],[1.541,.0048],[1.627,.0137],[1.742,.0264]
];

const panelPoints = [fullPointsA.concat(fullPointsB), firstPointsA.concat(firstPointsB), secondPointsA.concat(secondPointsB)];
const panelCurves = [fullCurve, firstCurve, secondCurve];

// ---------------- LAYOUT ----------------
const panelLeft = [97.3, 537.3, 977.7];
const plotW = 301.4, plotTop = 70.7, plotBottom = 370.7;
const baseFont = 18.7, titleFont = 23;

const svg = d3.select("#chart");
svg.append("rect").attr("width",1280).attr("height",460).attr("fill","#fff");

panelTitles.forEach((title, i) => {
  const L = panelLeft[i];
  const x = d3.scaleLinear().domain(xDomain).range([L, L + plotW]);
  const y = d3.scaleLinear().domain(yDomain).range([plotBottom, plotTop]);
  const g = svg.append("g");
  const cx = L + plotW / 2;

  const clipId = "clip" + i;
  svg.append("clipPath").attr("id", clipId).append("rect")
    .attr("x", L).attr("y", plotTop).attr("width", plotW).attr("height", plotBottom - plotTop);

  const plot = g.append("g").attr("clip-path", `url(#${clipId})`);

  // points
  plot.append("g").selectAll("circle").data(panelPoints[i]).join("circle")
    .attr("cx", d => x(d[0])).attr("cy", d => y(d[1])).attr("r", 1.05).attr("fill", "#000");

  // vertical break lines
  plot.append("g").selectAll("line").data(breakLines).join("line")
    .attr("x1", d => x(d)).attr("x2", d => x(d))
    .attr("y1", y(0)).attr("y2", y(0.04))
    .attr("stroke", "#000").attr("stroke-width", 3).attr("stroke-linecap", "round");

  // fitted curve
  const line = d3.line().x(d => x(d[0])).y(d => y(d[1])).curve(d3.curveCatmullRom.alpha(0.5));
  plot.append("path").datum(panelCurves[i]).attr("d", line)
    .attr("fill", "none").attr("stroke", "#000").attr("stroke-width", 3.2)
    .attr("stroke-linejoin", "round").attr("stroke-linecap", "round");

  // box
  g.append("rect").attr("x", L).attr("y", plotTop).attr("width", plotW).attr("height", plotBottom - plotTop)
    .attr("fill", "none").attr("stroke", "#000").attr("stroke-width", 1);

  // x axis
  const xa = g.append("g").attr("transform", `translate(0,${plotBottom})`)
    .call(d3.axisBottom(x).tickValues(xTicks).tickFormat(d3.format(".1f")).tickSize(11).tickSizeOuter(0).tickPadding(17));
  xa.select(".domain").remove();
  xa.selectAll("line").attr("stroke", "#000").attr("stroke-width", 1);
  xa.selectAll("text").attr("font-size", baseFont).attr("font-family", "Liberation Sans, Arial, sans-serif").attr("fill", "#000");

  // y axis
  const ya = g.append("g").attr("transform", `translate(${L},0)`)
    .call(d3.axisLeft(y).tickValues(yTicks).tickFormat(d3.format(".2f")).tickSize(11).tickSizeOuter(0));
  ya.select(".domain").remove();
  ya.selectAll("line").attr("stroke", "#000").attr("stroke-width", 1);
  ya.selectAll("text")
    .attr("x", null).attr("dy", null).attr("y", null)
    .attr("text-anchor", "middle")
    .attr("transform", "translate(-25.6,0) rotate(-90)")
    .attr("font-size", baseFont).attr("font-family", "Liberation Sans, Arial, sans-serif").attr("fill", "#000");

  // labels
  g.append("text").attr("x", cx).attr("y", 33.3).attr("text-anchor", "middle")
    .attr("font-size", titleFont).attr("font-weight", "bold").text(title);
  g.append("text").attr("x", cx).attr("y", 455).attr("text-anchor", "middle")
    .attr("font-size", baseFont).text(xLabel);
  g.append("text").attr("transform", `translate(${L - 70.6},${(plotTop + plotBottom) / 2}) rotate(-90)`)
    .attr("text-anchor", "middle").attr("font-size", baseFont).text(yLabel);
});
</script>
</body></html>
